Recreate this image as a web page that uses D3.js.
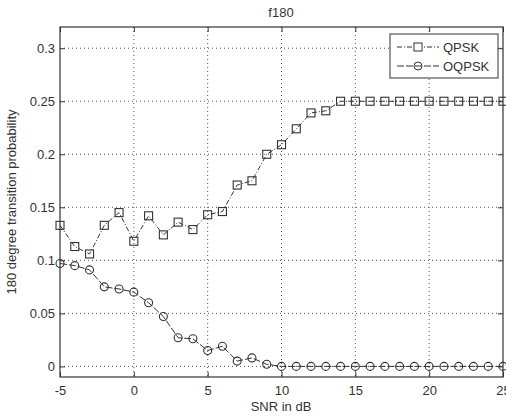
<!DOCTYPE html>
<html>
<head>
<meta charset="utf-8">
<script src="https://cdn.jsdelivr.net/npm/d3@7"></script>
<style>
body { margin: 0; background: #fff; }
text { font-family: "Liberation Sans", Arial, sans-serif; fill: #333; }
</style>
</head>
<body>
<div id="chart"></div>
<script>
var snr = d3.range(-5, 26);
var qpsk = [0.133, 0.113, 0.106, 0.133, 0.145, 0.118, 0.142, 0.124, 0.136, 0.129,
            0.143, 0.146, 0.171, 0.175, 0.200, 0.209, 0.224, 0.239, 0.241, 0.250,
            0.250, 0.250, 0.250, 0.250, 0.250, 0.250, 0.250, 0.250, 0.250, 0.250, 0.250];
var oqpsk = [0.097, 0.095, 0.091, 0.075, 0.073, 0.070, 0.060, 0.047, 0.027, 0.026,
             0.015, 0.019, 0.005, 0.008, 0.002, 0, 0, 0, 0, 0,
             0, 0, 0, 0, 0, 0, 0, 0, 0, 0, 0];
var xTicks = [-5, 0, 5, 10, 15, 20, 25];
var yTicks = [0, 0.05, 0.1, 0.15, 0.2, 0.25, 0.3];

var width = 506, height = 416;
var pLeft = 60, pRight = 503, pTop = 27, pBottom = 377;

var svg = d3.select("#chart").append("svg").attr("width", width).attr("height", height);

var x = d3.scaleLinear().domain([-5, 25]).range([pLeft, pRight]);
var y = d3.scaleLinear().domain([-0.01, 0.32]).range([pBottom, pTop]);

// grid
svg.append("g").selectAll("line").data(xTicks.slice(1, -1)).enter().append("line")
    .attr("x1", d => x(d)).attr("x2", d => x(d)).attr("y1", pTop).attr("y2", pBottom)
    .style("stroke", "#555").style("stroke-width", 1).style("stroke-dasharray", "1,3");
svg.append("g").selectAll("line").data(yTicks).enter().append("line")
    .attr("y1", d => y(d)).attr("y2", d => y(d)).attr("x1", pLeft).attr("x2", pRight)
    .style("stroke", "#555").style("stroke-width", 1).style("stroke-dasharray", "1,3");

// axes, ticks inward on all four sides
var tickStyle = function (g) {
    g.select(".domain").remove();
    g.selectAll("line").style("stroke", "#333");
    g.selectAll("text").style("font-size", "13px").style("fill", "#333")
        .style("font-family", "Liberation Sans, Arial, sans-serif");
};
svg.append("g").attr("transform", "translate(0," + pBottom + ")")
    .call(d3.axisBottom(x).tickValues(xTicks).tickSize(-5).tickPadding(9).tickFormat(d => String(d)))
    .call(tickStyle);
svg.append("g").attr("transform", "translate(0," + pTop + ")")
    .call(d3.axisTop(x).tickValues(xTicks).tickSize(-5).tickFormat(""))
    .call(tickStyle);
svg.append("g").attr("transform", "translate(" + pLeft + ",0)")
    .call(d3.axisLeft(y).tickValues(yTicks).tickSize(-5).tickPadding(5).tickFormat(d => String(+d.toFixed(2))))
    .call(tickStyle);
svg.append("g").attr("transform", "translate(" + pRight + ",0)")
    .call(d3.axisRight(y).tickValues(yTicks).tickSize(-5).tickFormat(""))
    .call(tickStyle);

svg.append("rect").attr("x", pLeft).attr("y", pTop).attr("width", pRight - pLeft).attr("height", pBottom - pTop)
    .style("fill", "none").style("stroke", "#333").style("stroke-width", 1.2);

// series
var line = d3.line().x((d, i) => x(snr[i])).y(d => y(d));

svg.append("path").datum(qpsk).attr("d", line)
    .style("fill", "none").style("stroke", "#333").style("stroke-width", 1).style("stroke-dasharray", "5,2,1,2");
svg.append("path").datum(oqpsk).attr("d", line)
    .style("fill", "none").style("stroke", "#333").style("stroke-width", 1).style("stroke-dasharray", "7,2");

svg.append("g").selectAll("rect").data(qpsk).enter().append("rect")
    .attr("x", (d, i) => x(snr[i]) - 4).attr("y", d => y(d) - 4).attr("width", 8).attr("height", 8)
    .style("fill", "none").style("stroke", "#333").style("stroke-width", 1.1);
svg.append("g").selectAll("circle").data(oqpsk).enter().append("circle")
    .attr("cx", (d, i) => x(snr[i])).attr("cy", d => y(d)).attr("r", 4)
    .style("fill", "none").style("stroke", "#333").style("stroke-width", 1.1);

// legend
var lg = svg.append("g");
lg.append("rect").attr("x", 390).attr("y", 34).attr("width", 108).attr("height", 44)
    .style("fill", "#fff").style("stroke", "#333").style("stroke-width", 1);
var legendItems = [{name: "QPSK", dash: "5,2,1,2", marker: "square", yy: 47},
                   {name: "OQPSK", dash: "7,2", marker: "circle", yy: 66}];
legendItems.forEach(function (it) {
    lg.append("line").attr("x1", 397).attr("x2", 439).attr("y1", it.yy).attr("y2", it.yy)
        .style("stroke", "#333").style("stroke-dasharray", it.dash);
    if (it.marker === "square") {
        lg.append("rect").attr("x", 414).attr("y", it.yy - 4).attr("width", 8).attr("height", 8)
            .style("fill", "#fff").style("stroke", "#333");
    } else {
        lg.append("circle").attr("cx", 418).attr("cy", it.yy).attr("r", 4)
            .style("fill", "none").style("stroke", "#333");
    }
    lg.append("text").attr("x", 443).attr("y", it.yy + 5).text(it.name).style("font-size", "13px");
});

// labels
svg.append("text").attr("x", 281).attr("y", 17).attr("text-anchor", "middle").style("font-size", "13px").text("f180");
svg.append("text").attr("x", 281).attr("y", 411).attr("text-anchor", "middle").style("font-size", "13px").text("SNR in dB");
svg.append("text").attr("transform", "translate(16," + ((pTop + pBottom) / 2) + ") rotate(-90)")
    .attr("text-anchor", "middle").style("font-size", "13px").text("180 degree transition probability");
</script>
</body>
</html>
